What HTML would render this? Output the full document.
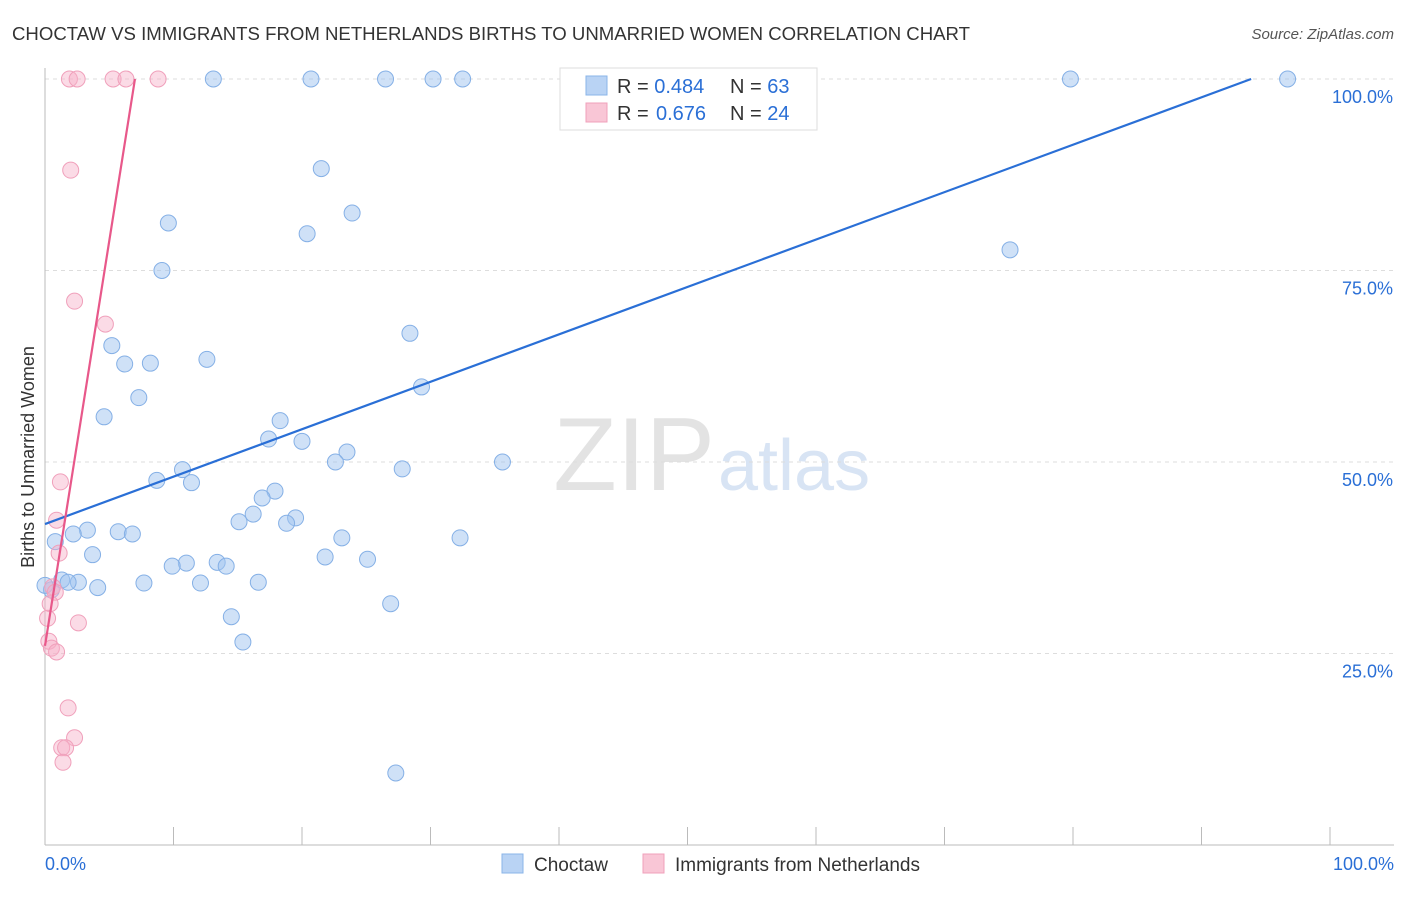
<!DOCTYPE html>
<html><head><meta charset="utf-8"><style>
body{margin:0;background:#fff;font-family:"Liberation Sans",sans-serif;}
svg text{font-family:"Liberation Sans",sans-serif;}
</style></head><body>
<svg id="chart" width="1406" height="892">
<text x="12" y="40" font-size="18" fill="#333" textLength="958" lengthAdjust="spacingAndGlyphs">CHOCTAW VS IMMIGRANTS FROM NETHERLANDS BIRTHS TO UNMARRIED WOMEN CORRELATION CHART</text>
<text x="1394" y="39" font-size="15" fill="#555" font-style="italic" text-anchor="end">Source: ZipAtlas.com</text>
<text x="715" y="490" font-size="104" fill="#e3e3e3" text-anchor="end" font-family="Liberation Serif">ZIP</text>
<text x="718" y="490" font-size="72" fill="#d8e4f4">atlas</text>
<g id="grid"></g><g id="axes"></g><g id="marks"></g>
<text transform="translate(34,457) rotate(-90)" font-size="18" fill="#333" text-anchor="middle">Births to Unmarried Women</text>
<g>
<rect x="560" y="68" width="257" height="62" fill="#fff" stroke="#ddd"/>
<rect x="586" y="76" width="21" height="19" fill="#b9d3f4" stroke="#8ab4e8"/>
<rect x="586" y="103" width="21" height="19" fill="#f9c6d6" stroke="#f0a0bb"/>
<text x="617" y="93" font-size="20" fill="#333">R = <tspan fill="#2a6fd6">0.484</tspan><tspan x="730">N = </tspan><tspan fill="#2a6fd6">63</tspan></text>
<text x="617" y="120" font-size="20" fill="#333">R = <tspan fill="#2a6fd6" x="656">0.676</tspan><tspan x="730">N = </tspan><tspan fill="#2a6fd6">24</tspan></text>
</g>
<g>
<rect x="502" y="854" width="21" height="19" fill="#b9d3f4" stroke="#8ab4e8"/>
<text x="534" y="871" font-size="19" fill="#333">Choctaw</text>
<rect x="643" y="854" width="21" height="19" fill="#f9c6d6" stroke="#f0a0bb"/>
<text x="675" y="871" font-size="19" fill="#333">Immigrants from Netherlands</text>
</g>
</svg>
<script>
const blueX=[13.1,20.7,26.5,30.2,32.5,79.8,96.7,21.5,23.9,9.6,20.4,75.1,9.1,28.4,5.2,6.2,8.2,12.6,29.3,7.3,4.6,18.3,17.4,20.0,23.5,22.6,35.6,10.7,27.8,8.7,11.4,17.9,16.9,16.2,19.5,15.1,18.8,3.3,2.2,5.7,6.8,32.3,23.1,0.8,3.7,21.8,25.1,13.4,11.0,9.9,14.1,1.3,2.6,1.8,16.6,7.7,12.1,4.1,0.5,0,26.9,14.5,15.4,27.3];
const blueY=[100,100,100,100,100,100,100,88.3,82.5,81.2,79.8,77.7,75.0,66.8,65.2,62.8,62.9,63.4,59.8,58.4,55.9,55.4,53.0,52.7,51.3,50.0,50.0,49.0,49.1,47.6,47.3,46.2,45.3,43.2,42.7,42.2,42.0,41.1,40.6,40.9,40.6,40.1,40.1,39.6,37.9,37.6,37.3,36.9,36.8,36.4,36.4,34.6,34.3,34.3,34.3,34.2,34.2,33.6,33.3,33.9,31.5,29.8,26.5,9.4];
const pinkX=[1.9,2.5,5.3,6.3,8.8,2.0,2.3,4.7,1.2,0.9,1.1,0.6,0.8,0.4,0.2,2.6,0.3,0.5,0.9,1.8,2.3,1.3,1.6,1.4];
const pinkY=[100,100,100,100,100,88.1,71.0,68.0,47.4,42.4,38.1,33.7,33.0,31.5,29.6,29.0,26.6,25.7,25.2,17.9,14.0,12.7,12.7,10.8];
const blueLine=[41.9,0.619];
const pinkLine=[26.0,10.57];
const yTicks=[25,50,75,100];
const yTickLabels=["25.0%","50.0%","75.0%","100.0%"];
const xTicks=[0,10,20,30,40,50,60,70,80,90,100];
const NS="http://www.w3.org/2000/svg";
const X=v=>45+v*12.85, Y=v=>845-v*7.66;
function mk(t,a,p){const e=document.createElementNS(NS,t);for(const k in a)e.setAttribute(k,a[k]);document.getElementById(p).appendChild(e);return e;}
yTicks.forEach((t,i)=>{
 const g=mk('line',{x1:45,x2:1394,y1:Y(t),y2:Y(t),stroke:'#ddd','stroke-dasharray':'4,4'},'grid');
 
 
 const l=mk('text',{x:1393,y:Y(t)+24,'font-size':18,fill:'#2a6fd6','text-anchor':'end'},'axes');
 l.textContent=yTickLabels[i];
 
 
});
const ax=mk('line',{x1:45,x2:45,y1:68,y2:845,stroke:'#bbb'},'axes');


const bx=mk('line',{x1:45,x2:1394,y1:845,y2:845,stroke:'#bbb'},'axes');


xTicks.forEach(t=>{const e=mk('line',{x1:X(t),x2:X(t),y1:827,y2:845,stroke:'#bbb'},'axes');
 
 });
[[0,"0.0%",'start',45],[100,"100.0%",'end',1394]].forEach(a=>{const e=mk('text',{x:a[3],y:870,'font-size':18,fill:'#2a6fd6','text-anchor':a[2]},'axes');e.textContent=a[1];
 
 });
blueX.forEach((v,i)=>{const c=mk('circle',{cx:X(v),cy:Y(blueY[i]),r:8,fill:'rgba(160,195,240,0.5)',stroke:'#85b0e6','stroke-width':1},'marks');
 
 });
pinkX.forEach((v,i)=>{const c=mk('circle',{cx:X(v),cy:Y(pinkY[i]),r:8,fill:'rgba(246,175,200,0.45)',stroke:'#f0a0bb','stroke-width':1},'marks');
 
 });
const bxEnd=Math.min(100,(100-blueLine[0])/blueLine[1]);
const bl=mk('line',{x1:X(0),y1:Y(blueLine[0]),x2:X(bxEnd),y2:Y(blueLine[0]+blueLine[1]*bxEnd),stroke:'#2a6fd6','stroke-width':2.2},'marks');


const pxEnd=Math.min(100,(100-pinkLine[0])/pinkLine[1]);
const pl=mk('line',{x1:X(0),y1:Y(pinkLine[0]),x2:X(pxEnd),y2:Y(pinkLine[0]+pinkLine[1]*pxEnd),stroke:'#e8588a','stroke-width':2.2},'marks');


</script>
</body></html>
